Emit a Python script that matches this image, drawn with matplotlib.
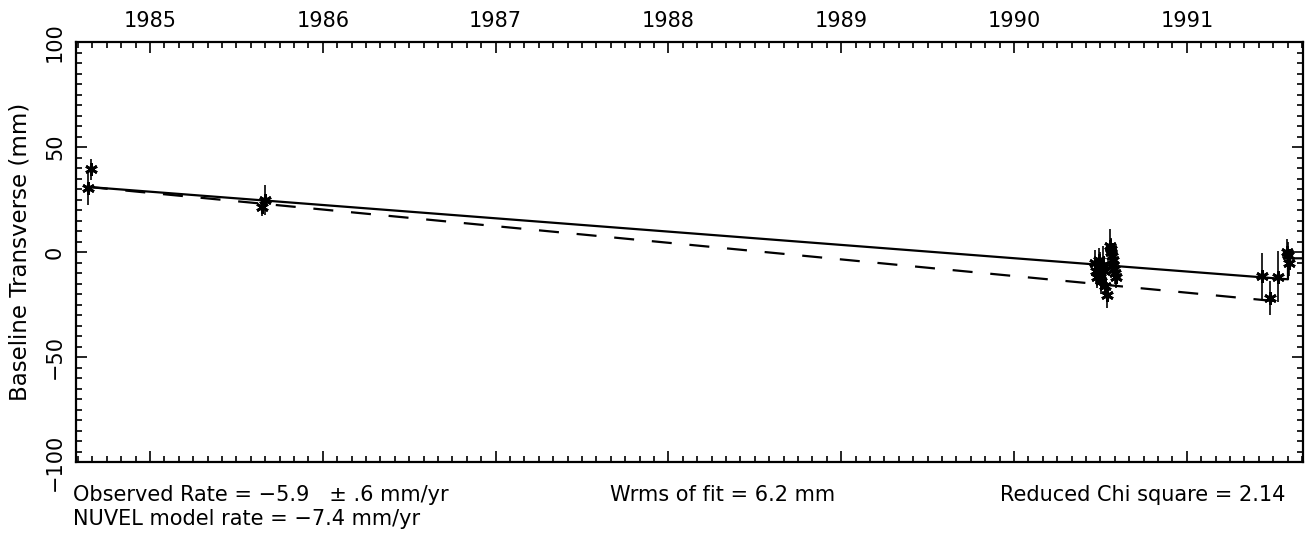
import numpy as np
import matplotlib
matplotlib.use('Agg')
import matplotlib.pyplot as plt
from matplotlib.ticker import MultipleLocator

# observations: epoch (decimal year), transverse offset (mm), sigma (mm)
obs_time = [1984.643, 1984.657, 1985.646, 1985.665,
            1990.470, 1990.475, 1990.480, 1990.490, 1990.495, 1990.500,
            1990.505, 1990.515, 1990.520, 1990.525, 1990.536,
            1990.555, 1990.560, 1990.562, 1990.565, 1990.570, 1990.575,
            1990.580, 1990.585, 1990.590,
            1991.433, 1991.480, 1991.530, 1991.582, 1991.584, 1991.590]
obs_value = [30.3, 39.4, 21.3, 24.8,
             -5.0, -9.0, -12.0, -4.0, -7.0, -10.0,
             -14.0, -6.0, -9.0, -16.0, -20.5,
             3.0, 0.0, 1.5, -2.0, -4.0, -6.0,
             -8.0, -10.0, -12.0,
             -11.4, -22.0, -11.7, 0.1, -1.4, -5.4]
obs_sigma = [8, 5, 4, 7,
             6, 6, 5, 6, 7, 6,
             6, 9, 7, 6, 6,
             8, 6, 5, 6, 5, 6,
             5, 5, 5,
             11, 8, 12, 6, 6, 6]

# fitted trend (solid) and NUVEL model (dashed)
fit_time = [1984.64, 1991.585, 1991.585, 1991.70]
fit_value = [31.0, -13.0, -3.0, -3.0]
model_time = [1984.64, 1991.585]
model_value = [31.0, -24.0]

years = [1985, 1986, 1987, 1988, 1989, 1990, 1991]

fig = plt.figure(figsize=(13.13, 5.44), dpi=100)
ax = fig.add_axes([76 / 1313, 1 - 462 / 544, (1303 - 76) / 1313, (462 - 42) / 544])

ax.plot(fit_time, fit_value, color='black', lw=1.6)
ax.plot(model_time, model_value, color='black', lw=1.6, linestyle=(0, (9.0, 8.0)))
ax.errorbar(obs_time, obs_value, yerr=obs_sigma, fmt='none', ecolor='black',
            elinewidth=1.2, capsize=0)
ax.plot(obs_time, obs_value, linestyle='none', marker=(6, 2, 0), ms=9, mew=2.0,
        color='black')

ax.set_xlim(1984.572, 1991.672)
ax.set_ylim(-100, 100)

for s in ax.spines.values():
    s.set_linewidth(1.6)

ax.set_xticks(years)
ax.set_xticklabels([str(y) for y in years])
ax.xaxis.set_minor_locator(MultipleLocator(1 / 12))
ax.set_yticks([-100, -50, 0, 50, 100])
ax.set_yticklabels(['\u2212100', '\u221250', '0', '50', '100'], rotation=90, va='center')
ax.yaxis.set_minor_locator(MultipleLocator(5))

ax.tick_params(which='both', direction='in', top=True, bottom=True, left=True, right=True,
               labeltop=True, labelbottom=False, width=1.2, labelsize=15)
ax.tick_params(which='major', length=8)
ax.tick_params(which='minor', length=4)
ax.tick_params(axis='x', pad=8)
ax.tick_params(axis='y', pad=8)

ax.set_ylabel('Baseline Transverse (mm)', fontsize=16.5)
ax.yaxis.set_label_coords(-44 / 1227, 0.5)

fig.text(73 / 1313, 1 - 495 / 544, 'Observed Rate = \u22125.9   \u00b1 .6 mm/yr',
         fontsize=15, va='center')
fig.text(73 / 1313, 1 - 519 / 544, 'NUVEL model rate = \u22127.4 mm/yr',
         fontsize=15, va='center')
fig.text(610 / 1313, 1 - 495 / 544, 'Wrms of fit = 6.2 mm', fontsize=15, va='center')
fig.text(1000 / 1313, 1 - 495 / 544, 'Reduced Chi square = 2.14', fontsize=15, va='center')

fig.savefig('out.png', dpi=100)
